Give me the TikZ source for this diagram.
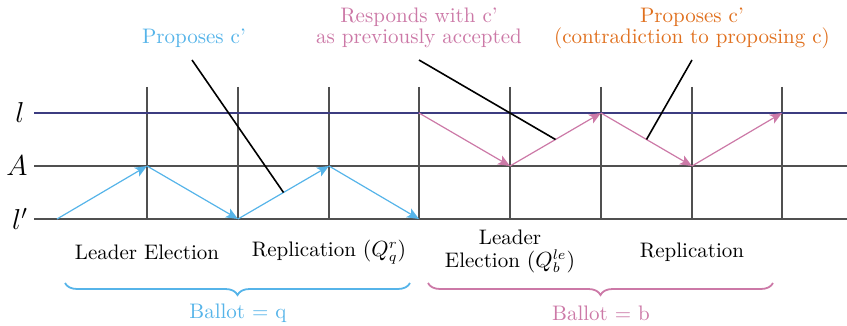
\documentclass[tikz,border=0pt]{standalone}
\usetikzlibrary{arrows.meta,decorations.pathreplacing}
\definecolor{cblue}{HTML}{56B4E9}
\definecolor{cpink}{HTML}{CC79A7}
\definecolor{corange}{HTML}{E0701E}
\definecolor{cnavy}{HTML}{3C3C80}
\definecolor{cgrid}{HTML}{505050}
\tikzset{
  gridline/.style={draw=cgrid, line width=0.8pt},
  msgblue/.style={draw=cblue, line width=0.6pt, -{Stealth[length=6pt,width=5pt,inset=1.5pt]}},
  msgpink/.style={draw=cpink, line width=0.6pt, -{Stealth[length=6pt,width=5pt,inset=1.5pt]}},
  pointer/.style={draw=black, line width=0.8pt},
  rowlabel/.style={font=\Large, anchor=center},
  phase/.style={align=center, anchor=center, inner sep=0.5pt, font=\fontsize{10.5}{11.5}\selectfont},
  note/.style={align=center, anchor=center, font=\fontsize{10.5}{10.5}\selectfont},
  bracestyle/.style={line width=0.9pt, decorate, decoration={brace, mirror, amplitude=6pt}},
}
\begin{document}
\begin{tikzpicture}[x=0.5pt, y=-0.5pt]
\useasboundingbox (0,0) rectangle (847,326);
% vertical grid coordinates
\foreach \i/\x in {1/147,2/238,3/329,4/419,5/510,6/601,7/692,8/782} {
  \coordinate (t\i) at (\x,87);
  \coordinate (l\i) at (\x,113);
  \coordinate (a\i) at (\x,166);
  \coordinate (p\i) at (\x,219);
  \draw[gridline] (t\i) -- (p\i);
}
\coordinate (start) at (57,219);
\coordinate (lL) at (34,113);
\coordinate (lR) at (847,113);
\coordinate (aL) at (34,166);
\coordinate (aR) at (847,166);
\coordinate (pL) at (34,219);
\coordinate (pR) at (847,219);
\draw[gridline] (aL) -- (aR);
\draw[gridline] (pL) -- (pR);
\draw[draw=cnavy, line width=0.8pt] (lL) -- (lR);
% row labels
\node[rowlabel] (rl) at (20,113) {$l$};
\node[rowlabel] (ra) at (17,166) {$A$};
\node[rowlabel] (rp) at (20,219) {$l'$};
% blue messages
\draw[msgblue] (start) -- (a1);
\draw[msgblue] (a1) -- (p2);
\draw[msgblue] (p2) -- coordinate[pos=0.5] (mb) (a3);
\draw[msgblue] (a3) -- (p4);
% pink messages
\draw[msgpink] (l4) -- (a5);
\draw[msgpink] (a5) -- coordinate[pos=0.5] (mp1) (l6);
\draw[msgpink] (l6) -- coordinate[pos=0.5] (mp2) (a7);
\draw[msgpink] (a7) -- (l8);
% notes
\node[note, text=cblue] (n1) at (194,38) {Proposes c'};
\node[note, text=cpink] (n2) at (419,28) {Responds with c'\\as previously accepted};
\node[note, text=corange] (n3) at (692,28) {Proposes c'\\(contradiction to proposing c)};
\coordinate (e1) at (192,60);
\coordinate (e2) at (419,60);
\coordinate (e3) at (692,60);
\draw[pointer] (e1) -- (mb);
\draw[pointer] (e2) -- (mp1);
\draw[pointer] (e3) -- (mp2);
% phase labels
\node[phase] (ph1) at (147,252) {Leader Election};
\node[phase] (ph2) at (329,252) {Replication $(Q_q^r)$};
\node[phase] (ph3) at (510,251) {Leader\\Election $(Q_b^{le})$};
\node[phase] (ph4) at (692,252) {Replication};
% braces
\coordinate (b1s) at (65,283);
\coordinate (b1e) at (410,283);
\coordinate (b2s) at (428,283);
\coordinate (b2e) at (773,283);
\draw[bracestyle, draw=cblue] (b1s) -- (b1e);
\draw[bracestyle, draw=cpink] (b2s) -- (b2e);
\node[note, text=cblue] (bq) at (238,313) {Ballot = q};
\node[note, text=cpink] (bb) at (601,313) {Ballot = b};
\end{tikzpicture}
\end{document}
